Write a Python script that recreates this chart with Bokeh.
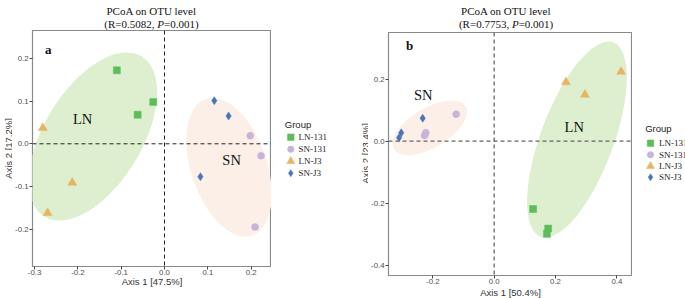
from bokeh.plotting import figure
from bokeh.models import Range1d, FixedTicker, Label, Span
from bokeh.layouts import row, column
from bokeh.embed import file_html
from bokeh.resources import INLINE
from bokeh.core.properties import value

# ---------------- data ----------------
groups = ["LN-131", "SN-131", "LN-J3", "SN-J3"]

# panel a
a_LN131_x = [-0.110, -0.026, -0.062]
a_LN131_y = [0.172, 0.098, 0.068]
a_SN131_x = [0.198, 0.223, 0.209]
a_SN131_y = [0.019, -0.028, -0.195]
a_LNJ3_x = [-0.281, -0.213, -0.270]
a_LNJ3_y = [0.037, -0.091, -0.162]
a_SNJ3_x = [0.115, 0.148, 0.083]
a_SNJ3_y = [0.101, 0.065, -0.077]

a_ell_label = ["LN", "SN"]
a_ell_cx = [-0.165, 0.149]
a_ell_cy = [0.017, -0.055]
a_ell_w = [0.433, 0.333]
a_ell_h = [0.229, 0.178]
a_ell_angle = [58.8, 108.8]
a_lab_x = [-0.189, 0.155]
a_lab_y = [0.059, -0.039]

a_title = "PCoA on OTU level"
a_stat = ["(R=0.5082, ", "P", "=0.001)"]
a_xlabel = "Axis 1 [47.5%]"
a_ylabel = "Axis 2 [17.2%]"
a_xticks = [-0.3, -0.2, -0.1, 0.0, 0.1, 0.2]
a_xticklabels = ["-0.3", "-0.2", "-0.1", "0.0", "0.1", "0.2"]
a_yticks = [-0.2, -0.1, 0.0, 0.1, 0.2]
a_yticklabels = ["-0.2", "-0.1", "0.0", "0.1", "0.2"]

# panel b
b_LN131_x = [0.127, 0.176, 0.172]
b_LN131_y = [-0.219, -0.282, -0.299]
b_SN131_x = [-0.124, -0.223, -0.227]
b_SN131_y = [0.087, 0.027, 0.018]
b_LNJ3_x = [0.234, 0.296, 0.414]
b_LNJ3_y = [0.190, 0.150, 0.224]
b_SNJ3_x = [-0.233, -0.303, -0.310]
b_SNJ3_y = [0.074, 0.027, 0.011]

b_ell_label = ["LN", "SN"]
b_ell_cx = [0.270, -0.210]
b_ell_cy = [0.005, 0.043]
b_ell_w = [0.677, 0.273]
b_ell_h = [0.235, 0.128]
b_ell_angle = [69.5, 30.7]
b_lab_x = [0.261, -0.231]
b_lab_y = [0.045, 0.150]

b_title = "PCoA on OTU level"
b_stat = ["(R=0.7753, ", "P", "=0.001)"]
b_xlabel = "Axis 1 [50.4%]"
b_ylabel = "Axis 2 [23.4%]"
b_xticks = [-0.2, 0.0, 0.2, 0.4]
b_xticklabels = ["-0.2", "0.0", "0.2", "0.4"]
b_yticks = [-0.4, -0.2, 0.0, 0.2]
b_yticklabels = ["-0.4", "-0.2", "0.0", "0.2"]

legend_title = "Group"

# ---------------- style ----------------
SERIF = "Liberation Serif"
SANS = "Liberation Sans"
COL = {"LN-131": "#5dbd5a", "SN-131": "#c8b4da", "LN-J3": "#e6b562", "SN-J3": "#4a74b8"}
MARK = {"LN-131": "square", "SN-131": "circle", "LN-J3": "triangle", "SN-J3": "diamond"}
MSIZE = {"LN-131": 7, "SN-131": 7, "LN-J3": 9, "SN-J3": 8}
LSIZE = {"LN-131": 6.5, "SN-131": 6.5, "LN-J3": 8, "SN-J3": 7}
ELL_COL = {"LN": "#ddefcf", "SN": "#fcefe8"}

# approximate Times advance widths (per 1000 em) for composing the stat line
TW = {"(": 333, ")": 333, "R": 667, "=": 564, ".": 250, ",": 250, " ": 250, "P": 611}


def tw(s, size):
    return sum(TW.get(c, 500) for c in s) * size / 1000.0


def blank(w, h, flip=True):
    yr = Range1d(h, 0) if flip else Range1d(0, h)
    f = figure(width=w, height=h, x_range=Range1d(0, w), y_range=yr,
               min_border=0, min_border_left=0, min_border_right=0,
               min_border_top=0, min_border_bottom=0,
               x_axis_location=None, y_axis_location=None,
               output_backend="svg", toolbar_location=None)
    f.frame_align = False
    f.grid.visible = False
    f.outline_line_color = None
    f.background_fill_color = "white"
    f.border_fill_color = "white"
    return f


def make_header(w, h, title, stat, cx):
    hd = blank(w, h)
    hd.add_layout(Label(x=cx, y=10.4, text=title, text_font=SERIF,
                        text_font_size="11px", text_align="center",
                        text_baseline="alphabetic", text_color="#111111"))
    fs = 11
    total = sum(tw(s, fs) for s in stat)
    left = cx - total / 2
    for k, s in enumerate(stat):
        hd.add_layout(Label(x=left, y=23.4, text=s, text_font=SERIF,
                            text_font_size="11px", text_align="left",
                            text_font_style="italic" if k == 1 else "normal",
                            text_baseline="alphabetic", text_color="#111111"))
        left += tw(s, fs)
    return hd


def make_ytitle(w, h, text, bx, cy):
    f = blank(w, h, flip=False)
    f.add_layout(Label(x=bx, y=h - cy, text=text, text_font=SANS,
                       text_font_size="9.5px", text_align="center",
                       text_baseline="alphabetic", angle=90, angle_units="deg",
                       text_color="#333333"))
    return f


def make_legend(w, h, tx, ty, mx, lx, ys):
    f = blank(w, h)
    f.add_layout(Label(x=tx, y=ty, text=legend_title, text_font=SANS,
                       text_font_size="9.5px", text_align="left",
                       text_baseline="middle", text_color="#222222"))
    for g, yy in zip(groups, ys):
        f.scatter(x=[mx], y=[yy], marker=MARK[g], size=LSIZE[g],
                  fill_color=COL[g], line_color=COL[g], line_width=0.5)
    f.text(x=[lx] * len(groups), y=ys, text=groups, text_font=value(SERIF),
           text_font_size=value("9px"), text_align="left",
           text_baseline="middle", text_color="#222222")
    return f


def make_body(L, W, H, bottom, xr, yr, pts, ell, labs, tag, tag_px, T,
              xlabel, xticks, xticklabels, yticks, yticklabels,
              zl_color, zl_width, xlab_standoff):
    tot_w = L + W
    tot_h = H + bottom
    p = figure(frame_width=W, frame_height=H, width=tot_w, height=tot_h,
               min_border_left=L, min_border_top=0, min_border_right=0,
               min_border_bottom=bottom,
               x_range=Range1d(*xr), y_range=Range1d(*yr),
               output_backend="svg", toolbar_location=None)
    p.frame_align = False
    p.grid.visible = False
    p.outline_line_color = "#8a8a8a"
    p.outline_line_width = 1.2
    p.background_fill_color = "white"
    p.border_fill_color = "white"

    # page-pixel -> data, for the panel tag only
    PL = tag_px[2]

    def d(px, py):
        return (xr[0] + (px - PL) / W * (xr[1] - xr[0]),
                yr[1] - (py - T) / H * (yr[1] - yr[0]))

    for ax, ticks, labels in ((p.xaxis[0], xticks, xticklabels),
                              (p.yaxis[0], yticks, yticklabels)):
        ax.ticker = FixedTicker(ticks=ticks)
        ax.major_label_overrides = {t: l for t, l in zip(ticks, labels)}
        ax.axis_line_color = None
        ax.major_tick_out = 3
        ax.major_tick_in = 0
        ax.minor_tick_line_color = None
        ax.major_tick_line_color = "#444444"
        ax.major_label_text_font = SANS
        ax.major_label_text_font_size = "7.8px"
        ax.major_label_text_color = "#4d4d4d"
    p.xaxis[0].axis_label = xlabel
    p.xaxis[0].axis_label_text_font = SANS
    p.xaxis[0].axis_label_text_font_size = "9.5px"
    p.xaxis[0].axis_label_text_font_style = "normal"
    p.xaxis[0].axis_label_text_color = "#333333"
    p.xaxis[0].major_label_standoff = 0
    p.yaxis[0].major_label_standoff = 1
    p.xaxis[0].axis_label_standoff = xlab_standoff

    # ellipses
    cx, cy, w, h, ang, names = ell
    for i in range(len(names)):
        p.ellipse(x=[cx[i]], y=[cy[i]], width=[w[i]], height=[h[i]],
                  angle=[ang[i]], angle_units="deg",
                  fill_color=ELL_COL[names[i]], line_color=None)

    # zero lines
    p.add_layout(Span(location=0, dimension="width", line_color=zl_color,
                      line_dash="4 3", line_width=zl_width))
    p.add_layout(Span(location=0, dimension="height", line_color=zl_color,
                      line_dash="4 3", line_width=zl_width))

    # points
    for g in groups:
        xs, ys = pts[g]
        p.scatter(x=xs, y=ys, marker=MARK[g], size=MSIZE[g],
                  fill_color=COL[g], line_color=COL[g], line_width=0.5)

    # group labels
    lx, ly = labs
    p.text(x=lx, y=ly, text=names, text_font=value(SERIF),
           text_font_size=value("14.5px"), text_align="center",
           text_baseline="middle", text_color="#111111")

    # panel tag
    tx, ty = d(tag_px[0], tag_px[1])
    p.add_layout(Label(x=tx, y=ty, text=tag, text_font=SERIF,
                       text_font_style="bold", text_font_size="13px",
                       text_align="center", text_baseline="middle",
                       text_color="#111111"))
    return p


# ---------- panel a (page x 0..340) ----------
ha = make_header(340, 30, a_title, a_stat, 151)
ya = make_ytitle(12, 268, a_ylabel, 8.0, 118)
pa = make_body(
    L=19, W=239, H=236, bottom=32,
    xr=(-0.3048, 0.2471), yr=(-0.2874, 0.2653),
    pts={"LN-131": (a_LN131_x, a_LN131_y), "SN-131": (a_SN131_x, a_SN131_y),
         "LN-J3": (a_LNJ3_x, a_LNJ3_y), "SN-J3": (a_SNJ3_x, a_SNJ3_y)},
    ell=(a_ell_cx, a_ell_cy, a_ell_w, a_ell_h, a_ell_angle, a_ell_label),
    labs=(a_lab_x, a_lab_y), tag="a", tag_px=(46.7, 49, 31), T=30,
    xlabel=a_xlabel,
    xticks=a_xticks, xticklabels=a_xticklabels,
    yticks=a_yticks, yticklabels=a_yticklabels,
    zl_color="#222222", zl_width=1, xlab_standoff=-2)
la = make_legend(70, 268, 13.3, 94, 19.3, 27, [106.7, 118.7, 130.7, 142.7])

# ---------- panel b (page x 340..685) ----------
hb = make_header(345, 32, b_title, b_stat, 164.6)
yb = make_ytitle(27, 266, b_ylabel, 23.6, 121)
pb = make_body(
    L=19, W=244, H=243, bottom=26,
    xr=(-0.3445, 0.451), yr=(-0.4333, 0.3505),
    pts={"LN-131": (b_LN131_x, b_LN131_y), "SN-131": (b_SN131_x, b_SN131_y),
         "LN-J3": (b_LNJ3_x, b_LNJ3_y), "SN-J3": (b_SNJ3_x, b_SNJ3_y)},
    ell=(b_ell_cx, b_ell_cy, b_ell_w, b_ell_h, b_ell_angle, b_ell_label),
    labs=(b_lab_x, b_lab_y), tag="b", tag_px=(67, 45, 46), T=32,
    xlabel=b_xlabel,
    xticks=b_xticks, xticklabels=b_xticklabels,
    yticks=b_yticks, yticklabels=b_yticklabels,
    zl_color="#666666", zl_width=1.3, xlab_standoff=0)
lb = make_legend(55, 266, 12.7, 96.3, 18, 26.5, [110.7, 122.3, 133.7, 144.7])

layout = row(column(ha, row(ya, pa, la, spacing=0), spacing=0),
             column(hb, row(yb, pb, lb, spacing=0), spacing=0),
             spacing=0)
open("out.html", "w").write(file_html(layout, INLINE))
